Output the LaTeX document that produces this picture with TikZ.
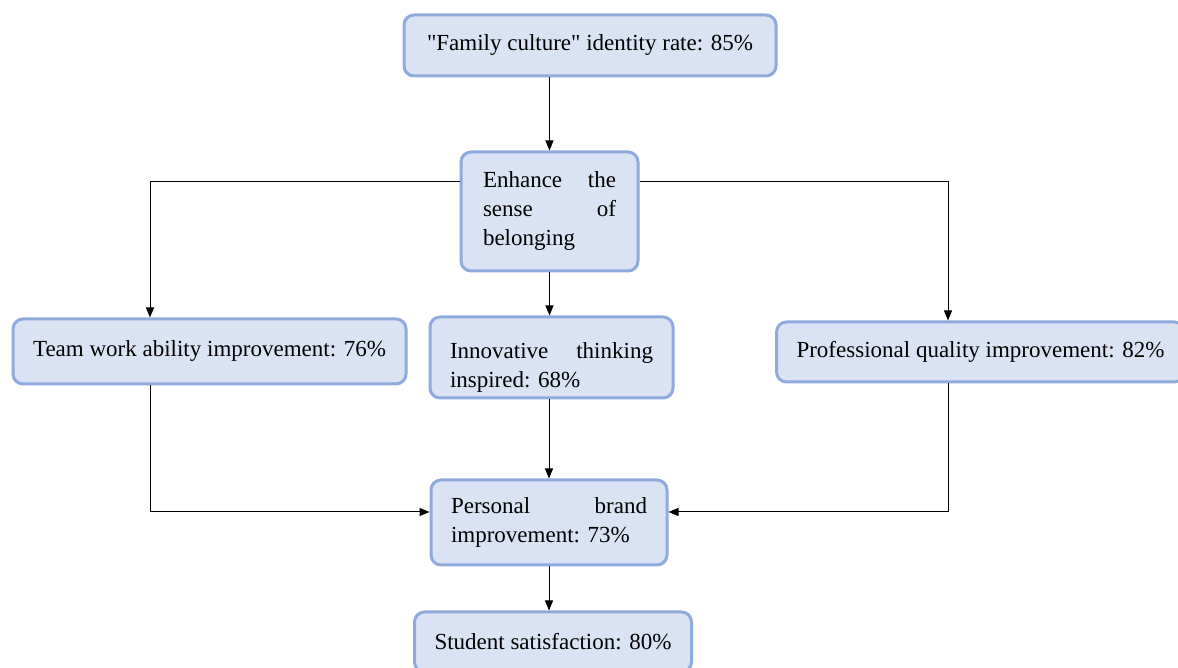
\documentclass[tikz,border=0pt]{standalone}
\usepackage{fontspec}
\setmainfont{Liberation Serif}[Ligatures=TeXOff]
\usepackage{tikz}
\usetikzlibrary {arrows.meta, positioning}
\definecolor{boxfill}{RGB}{218,227,243}
\definecolor{boxedge}{RGB}{143,170,220}
\hyphenpenalty=10000
\tolerance=10000

\begin{document}
\begin{tikzpicture}[
        x=1pt, y=1pt, >={Triangle[length=10pt,width=8pt]},
        box/.style={draw=boxedge, fill=boxfill, line width=3pt, rounded corners=10pt,
          inner xsep=20pt, inner ysep=0pt, font=\fontsize{23}{29}\selectfont},
        link/.style={->, line width=1pt, black},
        ]
        \useasboundingbox (0,0) rectangle (1178,668);
        \clip (0,0) rectangle (1178,668);

        \node[box, minimum width=372pt, minimum height=61pt] (n_fam)   at (590,622.5) {"Family culture" identity rate: 85\%};
        \node[box, minimum width=177pt, minimum height=119pt, text width=133pt, align=justify] (n_belong) at (549.5,456.5) {Enhance the sense of belonging};
        \node[box, minimum width=393pt, minimum height=65pt] (n_team)  at (209.5,316.5) {Team work ability improvement: 76\%};
        \node[box, minimum width=243pt, minimum height=81pt, text width=203pt, align=justify] (n_innov) at (551.5,310.5) {\rule{0pt}{35pt}Innovative thinking inspired: 68\%};
        \node[box, minimum width=405pt, minimum height=60pt, align=left] (n_prof)  at (980.5,316) {Professional quality improvement: 82\%};
        \node[box, minimum width=236pt, minimum height=85pt, text width=196pt, align=justify] (n_brand) at (549,145.5) {Personal brand improvement: 73\%};
        \node[box, minimum width=274pt, minimum height=60pt] (n_sat)   at (553,26) {Student satisfaction: 80\%};

        \draw[link] (n_belong |- n_fam.south) -- (n_belong.north);
        \draw[link] ([yshift=29.5pt]n_belong.west) -| ([xshift=-59.5pt]n_team.north);
        \draw[link] ([yshift=29.5pt]n_belong.east) -| ([xshift=-32.5pt]n_prof.north);
        \draw[link] (n_belong.south) -- (n_belong.south |- n_innov.north);
        \draw[link] ([xshift=-59.5pt]n_team.south) |- ([yshift=10.5pt]n_brand.west);
        \draw[link] ([xshift=-32.5pt]n_prof.south) |- ([yshift=10.5pt]n_brand.east);
        \draw[link] (n_brand |- n_innov.south) -- (n_brand.north);
        \draw[link] (n_brand.south) -- (n_brand.south |- n_sat.north);
      \end{tikzpicture}
\end{document}
